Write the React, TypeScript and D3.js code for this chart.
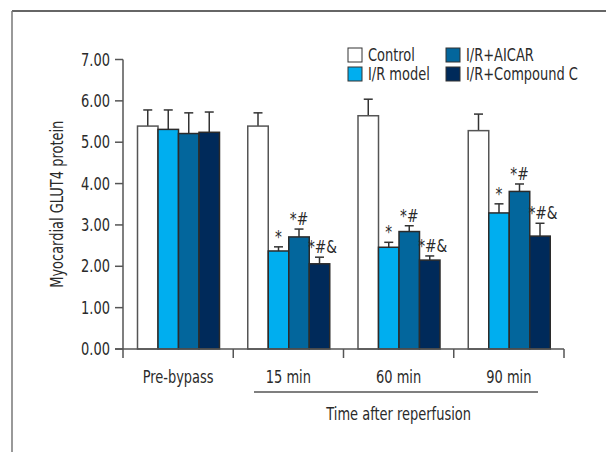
import React from "react";
import * as d3 from "d3";

const categories = ["Pre-bypass", "15 min", "60 min", "90 min"];
const seriesNames = ["Control", "I/R model", "I/R+AICAR", "I/R+Compound C"];
const controlValues = [5.39, 5.39, 5.64, 5.28];
const controlErrors = [0.39, 0.32, 0.4, 0.4];
const irModelValues = [5.31, 2.37, 2.46, 3.29];
const irModelErrors = [0.47, 0.1, 0.12, 0.22];
const aicarValues = [5.21, 2.71, 2.84, 3.81];
const aicarErrors = [0.5, 0.19, 0.14, 0.18];
const compoundCValues = [5.24, 2.06, 2.15, 2.73];
const compoundCErrors = [0.49, 0.16, 0.1, 0.31];
const controlMarks = ["", "", "", ""];
const irModelMarks = ["", "*", "*", "*"];
const aicarMarks = ["", "*#", "*#", "*#"];
const compoundCMarks = ["", "*#&", "*#&", "*#&"];
const yTicks = [0, 1, 2, 3, 4, 5, 6, 7];
const yLabel = "Myocardial GLUT4 protein";
const groupLabel = "Time after reperfusion";

const colors = ["#ffffff", "#00aeef", "#03669c", "#002a5a"];
const FONT = "'Liberation Sans Narrow','DejaVu Sans Condensed','Roboto Condensed',Roboto,sans-serif";
const SX = 0.85;

function T(props: { x: number; y: number; anchor?: string; size?: number; rotate?: number; children: React.ReactNode }) {
  const { x, y, anchor = "start", size = 17, rotate = 0, children } = props;
  return (
    <text
      transform={`translate(${x},${y})${rotate ? ` rotate(${rotate})` : ""} scale(${SX},1)`}
      textAnchor={anchor}
      fontSize={size}
      fill="#2a2a2a"
    >
      {children}
    </text>
  );
}

export default function App() {
  const W = 606, H = 452;
  const x0 = d3.scaleBand<string>().domain(categories).range([123, 564]).paddingInner(0).paddingOuter(0);
  const x1 = d3.scaleBand<string>().domain(seriesNames).range([14.5, 96.5]).padding(0);
  const y = d3.scaleLinear().domain([0, 7]).range([349, 59.5]);
  const values = [controlValues, irModelValues, aicarValues, compoundCValues];
  const errors = [controlErrors, irModelErrors, aicarErrors, compoundCErrors];
  const marks = [controlMarks, irModelMarks, aicarMarks, compoundCMarks];
  const axisColor = "#555";
  const bw = x1.bandwidth();
  const boundaries = [...categories.map((c) => x0(c)!), x0.range()[1]];

  return (
    <svg width={W} height={H} style={{ position: "absolute", left: 0, top: 0, background: "#fff" }} fontFamily={FONT}>
      {/* frame */}
      <line x1={12} y1={11} x2={W + 2} y2={11} stroke="#333" strokeWidth={1.5} />
      <line x1={12} y1={11} x2={12} y2={H + 2} stroke="#777" strokeWidth={1.5} />

      {/* bars */}
      {categories.map((c, ci) => (
        <g key={c} transform={`translate(${x0(c)},0)`}>
          {seriesNames.map((s, si) => {
            const v = values[si][ci];
            const e = errors[si][ci];
            const bx = x1(s)!;
            const cx = bx + bw / 2;
            const off = si === 3 ? 3 : 0;
            return (
              <g key={s}>
                <line x1={cx} x2={cx} y1={y(v)} y2={y(v + e)} stroke="#333" strokeWidth={1.5} />
                <line x1={cx - 4.5} x2={cx + 4.5} y1={y(v + e)} y2={y(v + e)} stroke="#333" strokeWidth={1.5} />
                <rect x={bx} y={y(v)} width={bw} height={y(0) - y(v)} fill={colors[si]} stroke={si === 0 ? "#555" : "#2b2b2b"} strokeWidth={1.5} />
                {marks[si][ci] && (
                  <T x={cx + off} y={y(v + e) - 4} anchor="middle" size={18}>
                    {marks[si][ci]}
                  </T>
                )}
              </g>
            );
          })}
        </g>
      ))}

      {/* y axis */}
      <line x1={x0.range()[0]} x2={x0.range()[0]} y1={y(7)} y2={y(0) + 9} stroke={axisColor} strokeWidth={1.5} />
      {yTicks.map((t) => (
        <g key={t}>
          <line x1={x0.range()[0] - 8} x2={x0.range()[0]} y1={y(t)} y2={y(t)} stroke={axisColor} strokeWidth={1.5} />
          <T x={110} y={y(t) + 6} anchor="end">
            {d3.format(".2f")(t)}
          </T>
        </g>
      ))}
      <T x={63} y={(y(0) + y(7)) / 2} anchor="middle" rotate={-90}>
        {yLabel}
      </T>

      {/* x axis */}
      <line x1={x0.range()[0] - 8} x2={x0.range()[1]} y1={y(0)} y2={y(0)} stroke={axisColor} strokeWidth={1.5} />
      {boundaries.slice(1).map((b, i) => (
        <line key={i} x1={b} x2={b} y1={y(0)} y2={y(0) + 9} stroke={axisColor} strokeWidth={1.5} />
      ))}
      {categories.map((c) => (
        <T key={c} x={x0(c)! + x0.bandwidth() / 2} y={383} anchor="middle">
          {c}
        </T>
      ))}
      <line x1={254} x2={538} y1={392} y2={392} stroke={axisColor} strokeWidth={1.5} />
      <T x={(x0(categories[1])! + x0.range()[1]) / 2} y={420} anchor="middle">
        {groupLabel}
      </T>

      {/* legend */}
      {seriesNames.map((s, i) => {
        const lx = i < 2 ? 348 : 446;
        const ly = i % 2 === 0 ? 48 : 67;
        return (
          <g key={s}>
            <rect x={lx} y={ly} width={14} height={14} fill={colors[i]} stroke="#333" strokeWidth={1} />
            <T x={lx + 20} y={ly + 13}>
              {s}
            </T>
          </g>
        );
      })}
    </svg>
  );
}
